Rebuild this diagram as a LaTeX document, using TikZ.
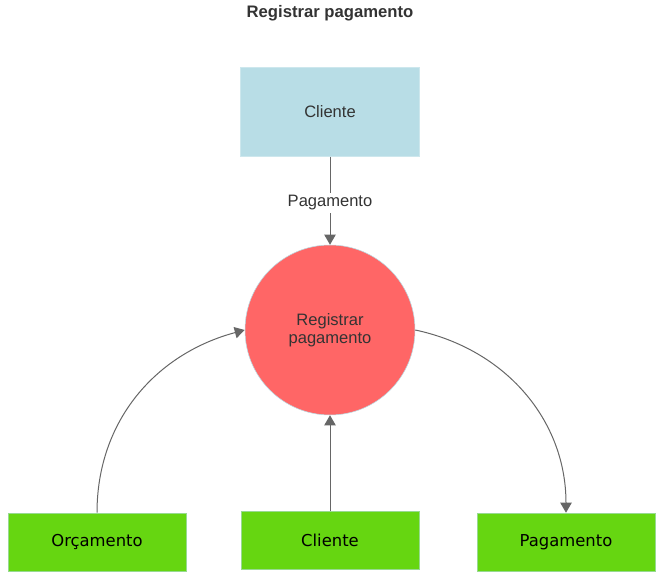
\documentclass[tikz,border=0pt]{standalone}
\usepackage{fontspec}
\setmainfont{Liberation Sans}
\newfontfamily\boxfont{DejaVu Sans}
\usepackage{tikz}
\usetikzlibrary{arrows.meta,positioning}

\definecolor{entblue}{HTML}{B8DDE6}
\definecolor{procred}{HTML}{FF6666}
\definecolor{storegreen}{HTML}{66D611}
\definecolor{edgegray}{HTML}{666666}
\definecolor{txtgray}{HTML}{333333}

\begin{document}
\begin{tikzpicture}[
  x=0.75pt, y=-0.75pt,
  node distance=66pt,
  entity/.style={
    draw=entblue!70!white,
    fill=entblue,
    text=txtgray,
    font=\fontsize{12.4}{14}\selectfont,
    minimum width=134pt,
    minimum height=67pt
  },
  process/.style={
    circle,
    draw=entblue,
    fill=procred,
    text=txtgray,
    align=center,
    font=\fontsize{12.4}{13.5}\selectfont,
    minimum size=127.5pt
  },
  store/.style={
    draw=entblue!60!storegreen,
    fill=storegreen,
    text=black,
    font=\boxfont\fontsize{12.3}{14}\selectfont,
    minimum width=133.5pt,
    minimum height=43.5pt
  },
  line/.style={-{Triangle[length=7.5pt,width=8.5pt]},draw=edgegray,line width=0.75pt}
]
\useasboundingbox (0,0) rectangle (670,580);

\node[font=\bfseries\fontsize{12.5}{14}\selectfont,text=txtgray] (title) at (330,13) {Registrar pagamento};

\node[process] (proc) at (330,330) {Registrar\\pagamento};
\node[entity,above=of proc] (cli) {\raisebox{-1.5pt}{Cliente}};

\node[store] (orc) at (97,542) {Orçamento};
\node[store] (clib) at (330,540) {Cliente};
\node[store] (pag) at (566,542) {Pagamento};

\draw[line] (cli) -- node[fill=white,text=txtgray,font=\fontsize{12.4}{14}\selectfont,inner sep=2pt,yshift=-1.5pt] {Pagamento} (proc);
\draw[line] (clib) -- (proc);
\draw[line] (orc.north) to[out=90,in=195] (proc.west);
\draw[line] (proc.east) to[out=-12,in=90] (pag.north);
\end{tikzpicture}
\end{document}
